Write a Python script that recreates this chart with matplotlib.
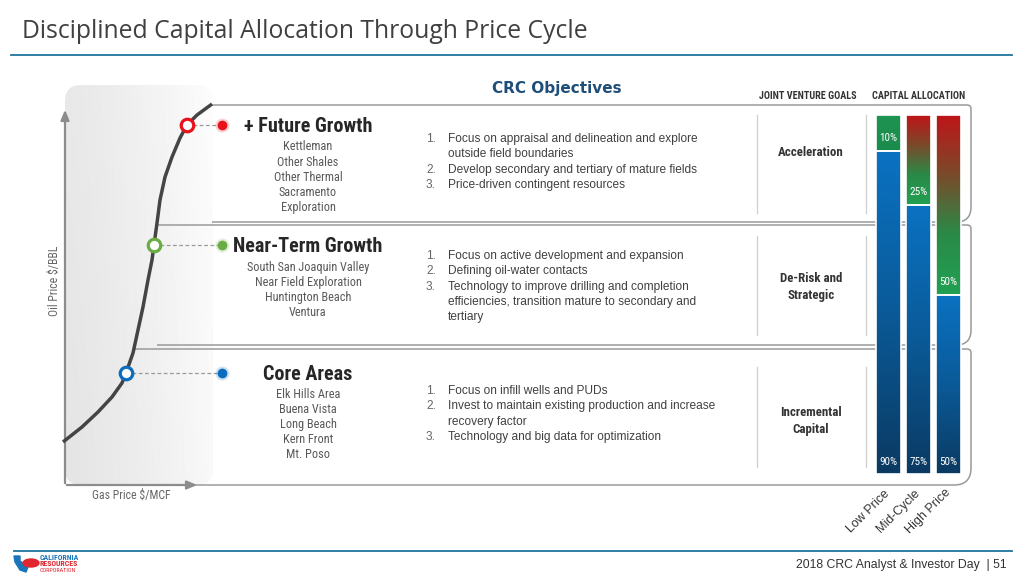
import matplotlib
matplotlib.use('Agg')
import matplotlib.pyplot as plt
import numpy as np
from matplotlib import font_manager as fm
from matplotlib.path import Path
from matplotlib.patches import PathPatch, FancyBboxPatch, Polygon, Ellipse
from matplotlib.colors import LinearSegmentedColormap

SANS = ['Liberation Sans', 'DejaVu Sans']
TITLEF = ['Open Sans', 'DejaVu Sans']


# pick a condensed face if one is installed, else a plain one at a smaller size
def pick_narrow():
    names = {f.name for f in fm.fontManager.ttflist}
    for n in ['Liberation Sans Narrow', 'Roboto Condensed', 'Open Sans Condensed', 'Noto Sans Condensed']:
        if n in names:
            return dict(family=n), 1.0
    for f in fm.fontManager.ttflist:
        if str(f.stretch) in ('condensed', 'semi-condensed') and 'Sans' in f.name:
            return dict(family=f.name, stretch=f.stretch), 1.0
    return dict(family='Roboto'), 0.84


NARROW, NSCALE = pick_narrow()

# ---- content ----
title = 'Disciplined Capital Allocation Through Price Cycle'
footer = '2018 CRC Analyst & Investor Day  | 51'

stages = ['+ Future Growth', 'Near-Term Growth', 'Core Areas']
stage_colors = ['#e8121b', '#6aac44', '#0b6cbd']
stage_areas = [
    ['Kettleman', 'Other Shales', 'Other Thermal', 'Sacramento', 'Exploration'],
    ['South San Joaquin Valley', 'Near Field Exploration', 'Huntington Beach', 'Ventura'],
    ['Elk Hills Area', 'Buena Vista', 'Long Beach', 'Kern Front', 'Mt. Poso'],
]
objectives = [
    [('1.', 'Focus on appraisal and delineation and explore'), ('', 'outside field boundaries'),
     ('2.', 'Develop secondary and tertiary of mature fields'), ('3.', 'Price-driven contingent resources')],
    [('1.', 'Focus on active development and expansion'), ('2.', 'Defining oil-water contacts'),
     ('3.', 'Technology to improve drilling and completion'),
     ('', 'efficiencies, transition mature to secondary and'), ('', 'tertiary')],
    [('1.', 'Focus on infill wells and PUDs'), ('2.', 'Invest to maintain existing production and increase'),
     ('', 'recovery factor'), ('3.', 'Technology and big data for optimization')],
]
goals = [['Acceleration'], ['De-Risk and', 'Strategic'], ['Incremental', 'Capital']]

scenarios = ['Low Price', 'Mid-Cycle', 'High Price']
core_pct = [90, 75, 50]      # blue part
growth_pct = [10, 25, 50]    # green/red part

# oil price curve (slide pixel space)
curve_x = [63, 82, 98, 112, 122, 126, 133, 138, 143, 148, 152, 154, 157, 160, 165, 172, 180, 187, 197, 212]
curve_y = [442, 427, 412, 397, 383, 373, 353, 330, 307, 280, 260, 245, 223, 200, 177, 157, 138, 125, 115, 104]
marker_x = [187, 154, 126]
marker_y = [125, 245, 373]

fig = plt.figure(figsize=(10.24, 5.76), dpi=100)
ax = fig.add_axes([0, 0, 1, 1])
ax.set_xlim(0, 1024)
ax.set_ylim(576, 0)
ax.axis('off')

# title + rules
ax.text(22, 31, title, family=TITLEF, fontsize=17.8, color='#404040', va='center', ha='left')
ax.plot([11, 1012], [55, 55], color='#1f75a0', lw=1.3)
ax.plot([14, 1012], [551, 551], color='#1f75a0', lw=1.3)
ax.text(1007, 565, footer, family=SANS, fontsize=8.8, color='#333333', ha='right', va='center')

# logo (rough)
ax.add_patch(Polygon([(14, 556), (20, 556), (20, 561), (28, 567), (26, 572), (20, 570), (15, 562)],
                     closed=True, color='#1b75bb'))
ax.add_patch(Ellipse((31, 563), 16, 8, color='#e0262e'))
ax.text(40, 557, 'CALIFORNIA', **NARROW, fontsize=5.6 * NSCALE, color='#1b75bb', weight='bold', va='center')
ax.text(40, 564, 'RESOURCES', **NARROW, fontsize=5.6 * NSCALE, color='#e0262e', weight='bold', va='center')
ax.text(40, 570.5, 'CORPORATION', **NARROW, fontsize=4.4 * NSCALE, color='#e0262e', va='center')

# gray panel behind the curve
panel = FancyBboxPatch((65, 85), 148, 400, boxstyle='round,pad=0,rounding_size=16',
                       facecolor='none', edgecolor='none')
ax.add_patch(panel)
gx = np.linspace(0, 1, 200)
gy = np.linspace(0, 1, 200)
grad = 0.895 + 0.08 * gx[None, :] ** 1.3 + 0.015 * (1 - gy[:, None])
grad = np.clip(grad, 0, 1)
im = ax.imshow(grad, extent=(65, 213, 485, 85), cmap='gray', vmin=0, vmax=1, aspect='auto',
               interpolation='bilinear', zorder=0)
im.set_clip_path(panel)

# axes arrows
ax.annotate('', xy=(65, 107), xytext=(65, 486),
            arrowprops=dict(arrowstyle='-|>,head_length=0.6,head_width=0.25', color='#8c8c8c', lw=1.6))
ax.annotate('', xy=(200, 485), xytext=(64, 485),
            arrowprops=dict(arrowstyle='-|>,head_length=0.6,head_width=0.25', color='#8c8c8c', lw=1.6))
ax.text(54, 281, 'Oil Price $/BBL', **NARROW, fontsize=8.5 * NSCALE, color='#666666', rotation=90,
        ha='center', va='center')
ax.text(131, 495, 'Gas Price $/MCF', **NARROW, fontsize=8.5 * NSCALE, color='#666666',
        ha='center', va='center')


def box(x0, y0, x1, y1, rt, rb):
    verts = [(x0, y0), (x1 - rt, y0), (x1, y0), (x1, y0 + rt), (x1, y1 - rb), (x1, y1),
             (x1 - rb, y1), (x0, y1)]
    codes = [Path.MOVETO, Path.LINETO, Path.CURVE3, Path.CURVE3, Path.LINETO, Path.CURVE3,
             Path.CURVE3, Path.LINETO]
    ax.add_patch(PathPatch(Path(verts, codes), facecolor='none', edgecolor='#9a9a9a', lw=1.1, zorder=2))


box(212, 105, 971, 222, 4, 15)
box(157, 225, 971, 345, 4, 15)
box(134, 349, 971, 485, 4, 17)

# separators
for y0, y1 in [(115, 213), (236, 335), (367, 467)]:
    ax.plot([757, 757], [y0, y1], color='#cfcfcf', lw=0.9)
    ax.plot([866, 866], [y0, y1], color='#cfcfcf', lw=0.9)

# curve and markers
ax.plot(curve_x, curve_y, color='#444444', lw=2.5, solid_capstyle='butt', solid_joinstyle='round', zorder=3)
for mx, my, c in zip(marker_x, marker_y, stage_colors):
    ax.plot([mx + 6, 218], [my, my], color='#9a9a9a', lw=0.9, ls=(0, (3, 2)), zorder=3)
    ax.plot(mx, my, 'o', ms=9, mfc='white', mec=c, mew=2.3, zorder=4)
    ax.plot(222, my, 'o', ms=10, color=c, alpha=0.2, mew=0, zorder=4)
    ax.plot(222, my, 'o', ms=7, color=c, mew=0, zorder=4)

# headers
ax.text(557, 88, 'CRC Objectives', family=['DejaVu Sans'], fontsize=11, weight='bold',
        color='#1f4e79', ha='center', va='center')
ax.text(808, 96, 'JOINT VENTURE GOALS', **NARROW, fontsize=7.3 * NSCALE, weight='bold', color='#333333',
        ha='center', va='center')
ax.text(919, 96, 'CAPITAL ALLOCATION', **NARROW, fontsize=7.3 * NSCALE, weight='bold', color='#333333',
        ha='center', va='center')

# stage texts
head_y = [126, 246, 374]
area_y = [147, 267, 394]
obj_y = [139, 256, 391]
goal_y = [153, 286.5, 420.5]
for i in range(3):
    ax.text(308, head_y[i], stages[i], **NARROW, fontsize=14.5 * NSCALE, weight='bold', color='#262626',
            ha='center', va='center')
    for j, a in enumerate(stage_areas[i]):
        ax.text(308, area_y[i] + 15.2 * j, a, **NARROW, fontsize=8.8 * NSCALE, color='#595959',
                ha='center', va='center')
    for j, (n, t) in enumerate(objectives[i]):
        yy = obj_y[i] + 15.3 * j
        if n:
            ax.text(426, yy, n, family=SANS, fontsize=8.6, color='#666666', ha='left', va='center')
        ax.text(448, yy, t, family=SANS, fontsize=8.6, color='#404040', ha='left', va='center')
    g = goals[i]
    for j, t in enumerate(g):
        ax.text(811, goal_y[i] + 17 * (j - (len(g) - 1) / 2), t, **NARROW, fontsize=9.3 * NSCALE,
                weight='bold', color='#333333', ha='center', va='center')

# scenario labels
for xc, s in zip([868, 898, 928], scenarios):
    ax.text(xc, 511, s, family=SANS, fontsize=9, color='#333333', rotation=45,
            rotation_mode='anchor', ha='center', va='center')

# capital allocation bars
bx = fig.add_axes([873.5 / 1024, (576 - 474) / 576, 90 / 1024, 359 / 576])
bx.axis('off')
w = 25 / 30
xs = np.arange(3)
blue_cmap = LinearSegmentedColormap.from_list('b', ['#0a3a62', '#0a5a98', '#0a72c2'])
green_cmap = LinearSegmentedColormap.from_list('g', ['#1a8a4c', '#1f9552'])
rg_cmap = LinearSegmentedColormap.from_list('rg', ['#22a052', '#2a8a48', '#7a4a2a', '#c01418'])
vgrad = np.linspace(0, 1, 256)[:, None]

low = bx.bar(xs, core_pct, w, color='none', edgecolor='white', lw=1.2, zorder=3)
high = bx.bar(xs, growth_pct, w, bottom=core_pct, color='none', edgecolor='white', lw=1.2, zorder=3)
for k in range(3):
    r = low[k]
    im = bx.imshow(vgrad, extent=(r.get_x(), r.get_x() + w, 0, core_pct[k]), origin='lower',
                   cmap=blue_cmap, aspect='auto', zorder=2)
    im.set_clip_path(r)
    r2 = high[k]
    cm = green_cmap if k == 0 else rg_cmap
    im2 = bx.imshow(vgrad, extent=(r2.get_x(), r2.get_x() + w, core_pct[k], 100), origin='lower',
                    cmap=cm, aspect='auto', zorder=2)
    im2.set_clip_path(r2)
    bx.text(xs[k], core_pct[k] + 3.6, f'{growth_pct[k]}%', color='white', fontsize=8 * NSCALE,
            **NARROW, ha='center', va='center', zorder=4)
    bx.text(xs[k], 3.4, f'{core_pct[k]}%', color='white', fontsize=8 * NSCALE, **NARROW,
            ha='center', va='center', zorder=4)
bx.set_xlim(-0.5, 2.5)
bx.set_ylim(0, 100)

fig.savefig('out.png', dpi=100)
